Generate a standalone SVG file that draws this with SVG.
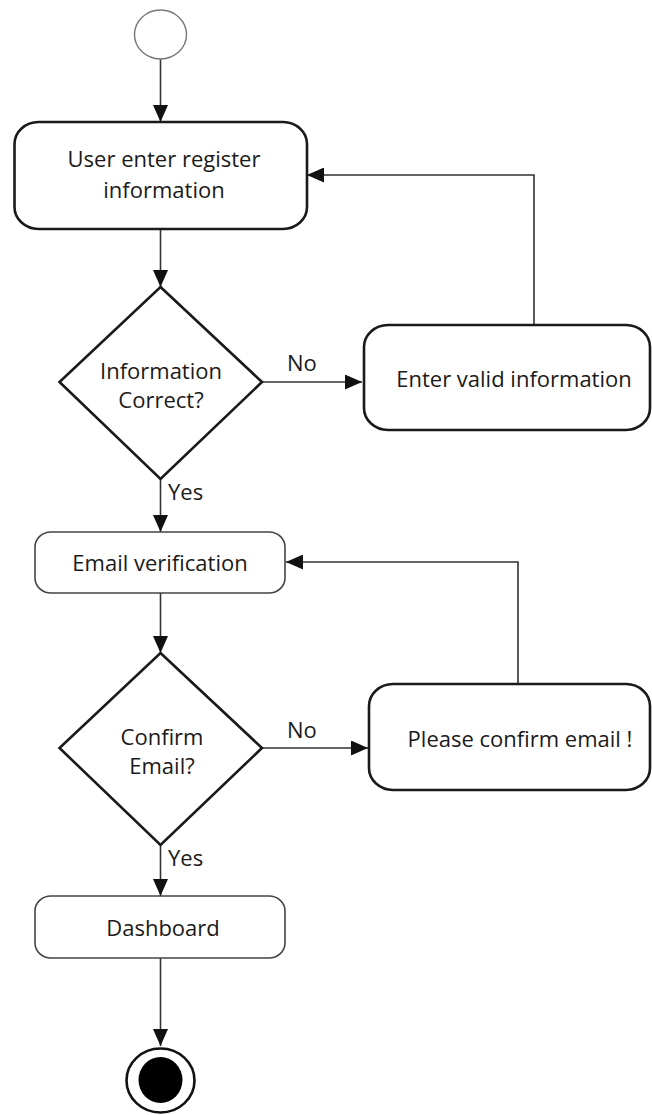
<svg xmlns="http://www.w3.org/2000/svg" width="652" height="1115" viewBox="0 0 652 1115">
  <style>
    text { font-family: "Open Sans", "Liberation Sans", sans-serif; font-size: 22px; fill: #1a1a1a; }
    .mid { text-anchor: middle; }
    .bold-shape { fill: #fff; stroke: #1a1a1a; stroke-width: 2.6; }
    .thin-shape { fill: #fff; stroke: #444; stroke-width: 1.6; }
    .edge { fill: none; stroke: #333; stroke-width: 1.6; marker-end: url(#arrow); }
  </style>
  <defs>
    <marker id="arrow" markerUnits="userSpaceOnUse" markerWidth="17" markerHeight="15" refX="17" refY="7.5" orient="auto">
      <path d="M0,0 L17,7.5 L0,15 z" fill="#111"/>
    </marker>
  </defs>
  <rect width="652" height="1115" fill="#fff"/>

  <!-- connectors -->
  <g id="connectors">
    <path class="edge" d="M160.5,59 V122"/>
    <path class="edge" d="M160.5,229 V287"/>
    <path class="edge" d="M262,382 H362"/>
    <path class="edge" d="M534,325 V175 H307"/>
    <path class="edge" d="M160.5,479 V532"/>
    <path class="edge" d="M160.5,593 V653"/>
    <path class="edge" d="M262,748 H368"/>
    <path class="edge" d="M518,684 V562 H286"/>
    <path class="edge" d="M160.5,845 V896"/>
    <path class="edge" d="M160.5,958 V1046"/>
    <text x="287" y="371">No</text>
    <text x="168" y="500">Yes</text>
    <text x="287" y="738">No</text>
    <text x="168" y="866">Yes</text>
  </g>

  <!-- start -->
  <g id="start">
    <ellipse cx="160.5" cy="34.5" rx="26" ry="24.5" fill="#fff" stroke="#777" stroke-width="1.4"/>
  </g>

  <g id="register">
    <rect class="bold-shape" x="14.5" y="122" width="292.5" height="107" rx="24" ry="22"/>
    <text class="mid" x="164" y="167">User enter register</text>
    <text class="mid" x="164" y="198">information</text>
  </g>

  <g id="info-correct">
    <path class="bold-shape" d="M160.5,287 L262,382 L160.5,479 L59.5,382 Z"/>
    <text class="mid" x="161" y="379">Information</text>
    <text class="mid" x="161" y="408">Correct?</text>
  </g>

  <g id="enter-valid">
    <rect class="bold-shape" x="364" y="325" width="286" height="105" rx="24" ry="22"/>
    <text class="mid" x="514" y="387">Enter valid information</text>
  </g>

  <g id="email-verification">
    <rect class="thin-shape" x="35" y="532" width="250" height="61" rx="16" ry="15"/>
    <text class="mid" x="160" y="571">Email verification</text>
  </g>

  <g id="confirm-email">
    <path class="bold-shape" d="M160.5,653 L262,748 L160.5,845 L59.5,748 Z"/>
    <text class="mid" x="162" y="745">Confirm</text>
    <text class="mid" x="162" y="774">Email?</text>
  </g>

  <g id="please-confirm">
    <rect class="bold-shape" x="369" y="684" width="281" height="106" rx="24" ry="22"/>
    <text class="mid" x="520" y="747">Please confirm email !</text>
  </g>

  <g id="dashboard">
    <rect class="thin-shape" x="35" y="896" width="250" height="62" rx="16" ry="15"/>
    <text class="mid" x="163" y="936">Dashboard</text>
  </g>

  <!-- end -->
  <g id="end">
    <ellipse cx="160.5" cy="1080.5" rx="34" ry="32" fill="#fff" stroke="#111" stroke-width="2.6"/>
    <ellipse cx="160.5" cy="1080" rx="22" ry="23" fill="#000"/>
  </g>
</svg>
